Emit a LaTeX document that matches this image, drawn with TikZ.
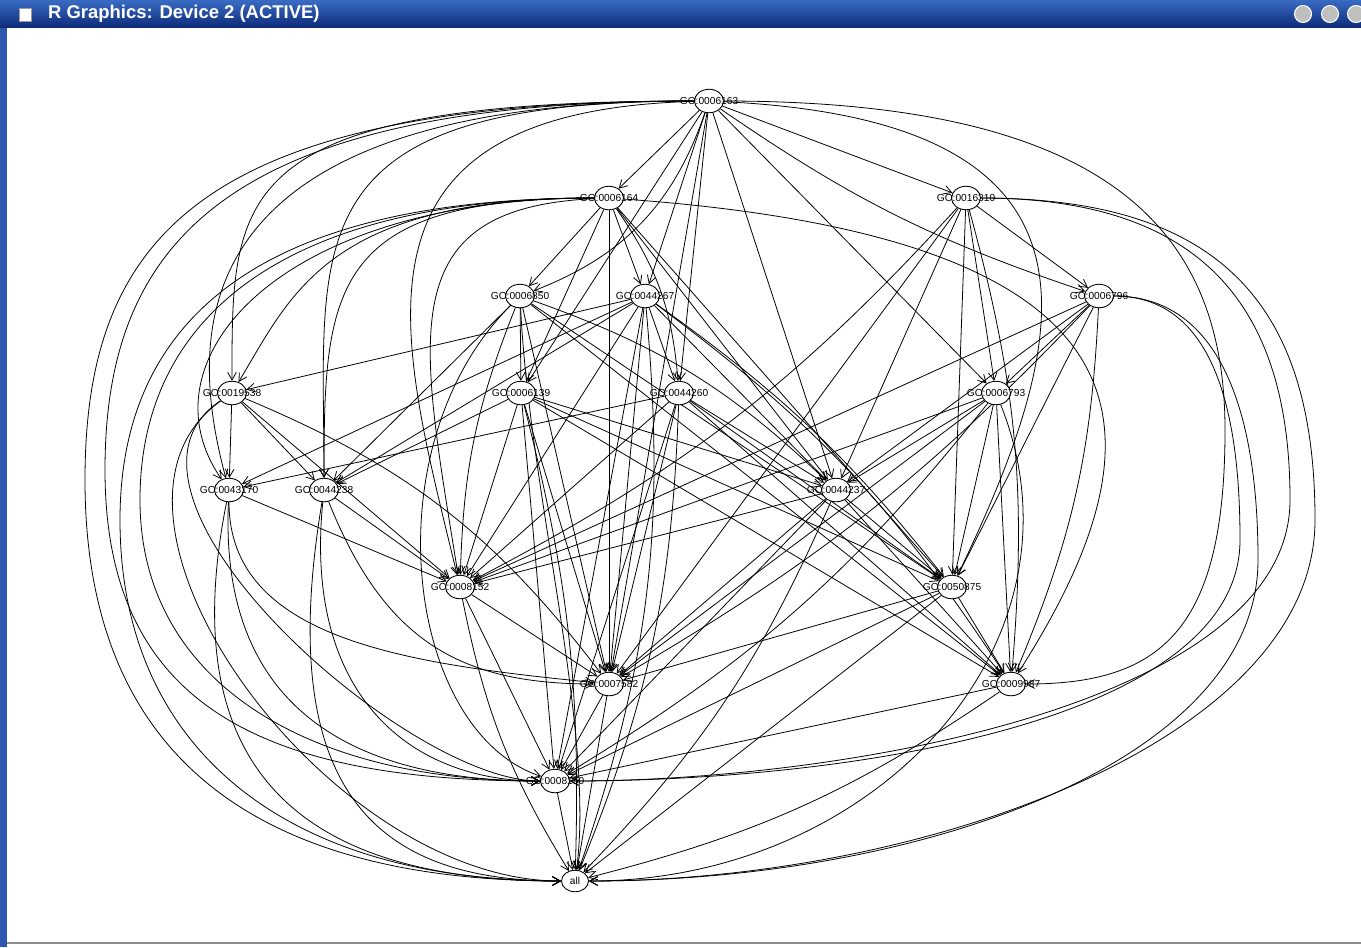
\documentclass[tikz,border=0pt]{standalone}
\usepackage{fontspec}
\setsansfont{Liberation Sans}
\usetikzlibrary{arrows.meta,shapes.geometric,backgrounds}
\definecolor{barTop}{HTML}{3A6BC4}
\definecolor{barBot}{HTML}{0E2C7A}
\definecolor{rim}{HTML}{2C58B0}
\tikzset{
  term/.style  ={ellipse, draw, fill=white, line width=0.5pt, inner sep=0pt,
                 minimum width=0.58cm, minimum height=0.47cm,
                 font=\fontsize{5.8}{6}\selectfont\sffamily},
  arr/.style   ={-{Straight Barb[length=4.5pt,width=5pt]}, line width=0.45pt},
  winbtn/.style={circle, draw=white, fill=black!25, line width=0.6pt,
                 minimum size=0.34cm, inner sep=0pt}
}
\newcommand{\goid}[1]{\makebox[0pt]{GO:#1}}

\begin{document}
\begin{tikzpicture}[x=0.02cm,y=-0.02cm]
  \useasboundingbox (0,0) rectangle (1361,947);

  % window title bar
  \shade[top color=barTop, bottom color=barBot] (0,0) rectangle (1361,27);
  \draw[fill=white, draw=black!40] (19,8) rectangle (31,21);
  \node[anchor=west, text=white, font=\fontsize{10.5}{12}\selectfont\sffamily\bfseries]
    (ttl) at (42,14) {R Graphics: Device 2 (ACTIVE)};
  \node[winbtn] (bmin) at (1303,14) {};
  \node[winbtn] (bmax) at (1330,14) {};
  \node[winbtn] (bcls) at (1356,14) {};

  % GO terms
  \node[term] (g6163)  at (709,101) {\goid{0006163}};
  \node[term] (g6164)  at (609,198) {\goid{0006164}};
  \node[term] (g16310) at (966,198) {\goid{0016310}};
  \node[term] (g6850)  at (520,296) {\goid{0006850}};
  \node[term] (g44267) at (645,296) {\goid{0044267}};
  \node[term] (g6796)  at (1099,296) {\goid{0006796}};
  \node[term] (g19538) at (232,393) {\goid{0019538}};
  \node[term] (g6139)  at (521,393) {\goid{0006139}};
  \node[term] (g44260) at (679,393) {\goid{0044260}};
  \node[term] (g6793)  at (996,393) {\goid{0006793}};
  \node[term] (g43170) at (229,490) {\goid{0043170}};
  \node[term] (g44238) at (324,490) {\goid{0044238}};
  \node[term] (g44237) at (836,490) {\goid{0044237}};
  \node[term] (g8152)  at (460,587) {\goid{0008152}};
  \node[term] (g50875) at (952,587) {\goid{0050875}};
  \node[term] (g7582)  at (609,684) {\goid{0007582}};
  \node[term] (g9987)  at (1011,684) {\goid{0009987}};
  \node[term] (g8150)  at (555,781) {\goid{0008150}};
  \node[term, minimum width=0.54cm, minimum height=0.43cm] (all) at (575,881) {all};

  \begin{scope}[on background layer]
  \fill[white] (0,27) rectangle (1361,947);
  \fill[rim] (0,27) rectangle (7,947);
  \draw[black!45, line width=1pt] (7,943) -- (1361,943);

  % from 0006163
  \foreach \t in {g6164,g16310,g44267,g44260,g44237,g6793,g7582,g6139}
    \draw[arr] (g6163) -- (\t);
  \draw[arr] (g6163) to[bend left=25] (g6850);
  \draw[arr] (g6163) to[bend right=8] (g6796);
  \draw[arr] (g6163) .. controls +(-480,0) and +(0,-200) .. (g19538);
  \draw[arr] (g6163) .. controls +(-540,0) and +(-40,-150) .. (g43170);
  \draw[arr] (g6163) .. controls +(-420,0) and +(0,-250) .. (g44238);
  \draw[arr] (g6163) .. controls +(-380,10) and +(-60,-250) .. (g8152);
  \draw[arr] (g6163) .. controls +(-480,0) and +(0,-230) .. (105,470)
                     .. controls +(0,230) and +(-300,0) .. (g8150);
  \draw[arr] (g6163) .. controls +(-500,0) and +(0,-250) .. (85,480)
                     .. controls +(0,250) and +(-350,0) .. (all);
  \draw[arr] (g6163) .. controls +(420,20) and +(120,-250) .. (g50875);
  \draw[arr] (g6163) .. controls +(400,0) and +(0,-200) .. (1225,430)
                     .. controls +(0,200) and +(150,0) .. (g9987);

  % from 0006164
  \foreach \t in {g6850,g44267,g6139,g7582,g44237,g50875}
    \draw[arr] (g6164) -- (\t);
  \draw[arr] (g6164) to[bend left=15] (g44260);
  \draw[arr] (g6164) .. controls +(-280,0) and +(60,-100) .. (g19538);
  \draw[arr] (g6164) .. controls +(-330,0) and +(-90,-130) .. (g43170);
  \draw[arr] (g6164) .. controls +(-280,0) and +(0,-200) .. (g44238);
  \draw[arr] (g6164) .. controls +(-220,10) and +(-40,-250) .. (g8152);
  \draw[arr] (g6164) .. controls +(560,40) and +(160,-250) .. (g9987);
  \draw[arr] (g6164) .. controls +(-330,0) and +(0,-180) .. (140,500)
                     .. controls +(0,180) and +(-250,0) .. (g8150);
  \draw[arr] (g6164) .. controls +(-350,0) and +(0,-200) .. (120,520)
                     .. controls +(0,220) and +(-300,0) .. (all);

  % from 0016310
  \foreach \t in {g6796,g6793,g44237,g50875,g7582}
    \draw[arr] (g16310) -- (\t);
  \draw[arr] (g16310) to[bend left=10] (g9987);
  \draw[arr] (g16310) to[bend left=10] (g8152);
  \draw[arr] (g16310) .. controls +(230,0) and +(0,-200) .. (1290,500)
                      .. controls +(0,200) and +(300,0) .. (g8150);
  \draw[arr] (g16310) .. controls +(250,0) and +(0,-220) .. (1315,520)
                      .. controls +(0,220) and +(350,0) .. (all);

  % from 0006850
  \foreach \t in {g6139,g44238,g50875,g7582,g9987}
    \draw[arr] (g6850) -- (\t);
  \draw[arr] (g6850) to[bend left=12] (g44237);
  \draw[arr] (g6850) to[bend right=10] (g8152);
  \draw[arr] (g6850) .. controls +(-150,150) and +(-150,-50) .. (g8150);
  \draw[arr] (g6850) .. controls +(10,200) and +(20,-150) .. (all);

  % from 0044267
  \foreach \t in {g44260,g19538,g43170,g44238,g44237,g8152,g7582,g8150}
    \draw[arr] (g44267) -- (\t);
  \draw[arr] (g44267) to[bend left=8] (g50875);
  \draw[arr] (g44267) to[bend left=10] (g9987);
  \draw[arr] (g44267) to[bend left=12] (all);

  % from 0006796
  \foreach \t in {g6793,g44237,g50875,g8152}
    \draw[arr] (g6796) -- (\t);
  \draw[arr] (g6796) to[bend left=10] (g9987);
  \draw[arr] (g6796) to[bend left=8] (g7582);
  \draw[arr] (g6796) .. controls +(110,0) and +(0,-140) .. (1240,540)
                     .. controls +(0,180) and +(300,0) .. (g8150);
  \draw[arr] (g6796) .. controls +(120,0) and +(0,-150) .. (1258,560)
                     .. controls +(0,200) and +(350,0) .. (all);

  % from 0019538
  \foreach \t in {g43170,g44238,g8152}
    \draw[arr] (g19538) -- (\t);
  \draw[arr] (g19538) to[bend left=15] (g7582);
  \draw[arr] (g19538) .. controls +(-150,100) and +(-150,0) .. (g8150);
  \draw[arr] (g19538) .. controls +(-170,120) and +(-250,0) .. (all);

  % from 0006139
  \foreach \t in {g44238,g44237,g8152,g50875,g7582,g9987,g8150}
    \draw[arr] (g6139) -- (\t);
  \draw[arr] (g6139) to[bend left=8] (all);

  % from 0044260
  \foreach \t in {g43170,g44237,g8152,g50875,g7582,g9987,g8150}
    \draw[arr] (g44260) -- (\t);
  \draw[arr] (g44260) to[bend left=10] (all);

  % from 0006793
  \foreach \t in {g44237,g8152,g50875,g7582,g9987}
    \draw[arr] (g6793) -- (\t);
  \draw[arr] (g6793) to[bend left=10] (g8150);
  \draw[arr] (g6793) .. controls +(100,250) and +(300,0) .. (all);

  % from 0043170 and 0044238
  \draw[arr] (g43170) -- (g8152);
  \draw[arr] (g43170) .. controls +(0,150) and +(-200,-20) .. (g7582);
  \draw[arr] (g43170) .. controls +(-10,220) and +(-200,0) .. (g8150);
  \draw[arr] (g43170) .. controls +(-60,300) and +(-250,0) .. (all);
  \draw[arr] (g44238) -- (g8152);
  \draw[arr] (g44238) .. controls +(60,150) and +(-150,0) .. (g7582);
  \draw[arr] (g44238) .. controls +(-20,200) and +(-150,0) .. (g8150);
  \draw[arr] (g44238) .. controls +(-50,300) and +(-200,0) .. (all);

  % from 0044237
  \foreach \t in {g8152,g50875,g7582,g9987,g8150}
    \draw[arr] (g44237) -- (\t);
  \draw[arr] (g44237) to[bend left=10] (all);

  % lower levels
  \draw[arr] (g8152) -- (g7582); \draw[arr] (g8152) -- (g8150);
  \draw[arr] (g8152) to[bend right=10] (all);
  \foreach \t in {g7582,g9987,g8150,all}
    \draw[arr] (g50875) -- (\t);
  \draw[arr] (g7582) -- (g8150); \draw[arr] (g7582) -- (all);
  \draw[arr] (g9987) -- (g8150); \draw[arr] (g9987) to[bend left=10] (all);
  \draw[arr] (g8150) -- (all);
  \end{scope}
\end{tikzpicture}
\end{document}
